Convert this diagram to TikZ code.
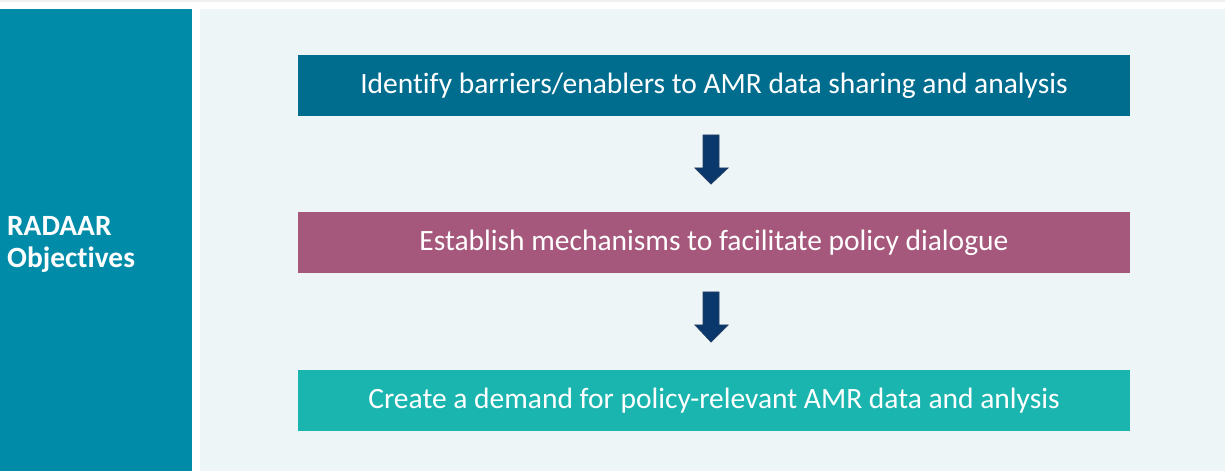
\documentclass[tikz,border=0pt]{standalone}
\usepackage{fontspec}
\setmainfont[Ligatures={NoCommon}]{Carlito}
\definecolor{sidepanel}{HTML}{008CA8}
\definecolor{mainpanel}{HTML}{EDF5F7}
\definecolor{topline}{HTML}{F0F0F0}
\definecolor{stepone}{HTML}{006D8F}
\definecolor{steptwo}{HTML}{A5587C}
\definecolor{stepthree}{HTML}{1BB5B0}
\definecolor{arrowfill}{HTML}{0B386C}
\definecolor{arrowedge}{HTML}{213F66}
\begin{document}
\begin{tikzpicture}[x=1bp,y=-1bp,
  stepbox/.style={fill=#1, draw=none, text=white, minimum width=832bp, minimum height=61bp,
    inner sep=0pt, font=\fontsize{29.6}{35}\selectfont},
  downarrow/.style={fill=arrowfill, draw=arrowedge, line width=0.8bp, line join=miter}]
  \useasboundingbox (0,0) rectangle (1225,471);
  \fill[white] (0,0) rectangle (1225,471);
  \fill[topline] (0,0) rectangle (1225,1.6);
  % side panel with title
  \fill[sidepanel] (0,9) rectangle (192,471);
  \node[anchor=base west, text=white, align=left, inner sep=0pt,
    font=\fontsize{29.5}{33}\bfseries\selectfont]
    (title) at (7,268) {RADAAR\\Objectives};
  % main panel
  \fill[mainpanel] (200,9) rectangle (1225,471);
  % objective boxes
  \node[stepbox=stepone] (s1) at (714,85.5) {Identify barriers/enablers to AMR data sharing and analysis};
  \node[stepbox=steptwo] (s2) at (714,243) {Establish mechanisms to facilitate policy dialogue};
  \node[stepbox=stepthree] (s3) at (714,400.5) {Create a demand for policy-relevant AMR data and anlysis};
  % block arrows between boxes
  \draw[downarrow] (703,135) -- (719,135) -- (719,168) -- (728,168) -- (711,184)
    -- (695,168) -- (703,168) -- cycle;
  \draw[downarrow] (703,292) -- (719,292) -- (719,325) -- (728,325) -- (711,342)
    -- (695,325) -- (703,325) -- cycle;
\end{tikzpicture}
\end{document}
